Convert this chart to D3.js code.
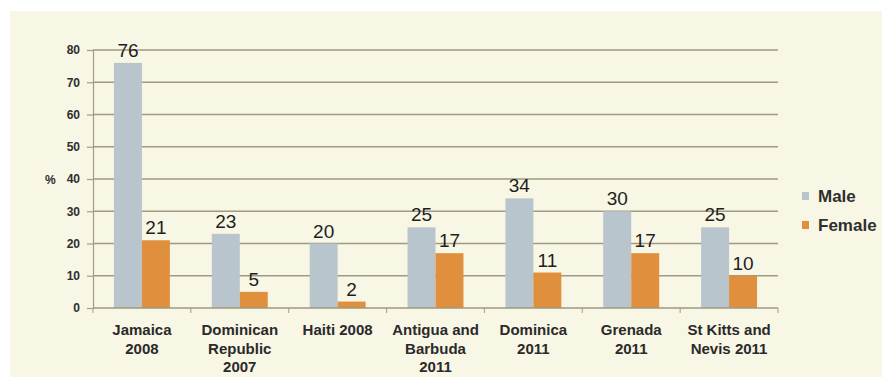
<!DOCTYPE html>
<html>
<head>
<meta charset="utf-8">
<script src="https://cdn.jsdelivr.net/npm/d3@7"></script>
<style>
  body { margin: 0; background: #fff; overflow: hidden; }
  svg { display: block; font-family: "Liberation Sans", Arial, sans-serif; }
</style>
</head>
<body>
<div id="chart"></div>
<script>
const categories = [
    ["Jamaica", "2008"],
    ["Dominican", "Republic", "2007"],
    ["Haiti 2008"],
    ["Antigua and", "Barbuda", "2011"],
    ["Dominica", "2011"],
    ["Grenada", "2011"],
    ["St Kitts and", "Nevis 2011"]
];
const male = [76, 23, 20, 25, 34, 30, 25];
const female = [21, 5, 2, 17, 11, 17, 10];
const seriesNames = ["Male", "Female"];
const yTicks = [0, 10, 20, 30, 40, 50, 60, 70, 80];

const width = 882, height = 377;
const colors = { Male: "#b9c5cd", Female: "#e0903c" };

const svg = d3.select("#chart").append("svg")
    .attr("width", width)
    .attr("height", height);

// cream panel
svg.append("rect")
    .attr("x", 10).attr("y", 11)
    .attr("width", width - 10).attr("height", height - 11)
    .attr("fill", "#f8f6e4");

const plot = { left: 93, right: 778, top: 50, bottom: 308 };

const keys = categories.map((c, i) => i);
const x = d3.scaleBand()
    .domain(keys)
    .range([plot.left, plot.right]);

const barW = x.bandwidth() / 3.5;
const y = d3.scaleLinear()
    .domain([0, 80])
    .range([plot.bottom, plot.top]);

// gridlines
svg.append("g")
    .selectAll("line")
    .data(yTicks.filter(d => d > 0))
    .enter().append("line")
    .attr("x1", plot.left).attr("x2", plot.right)
    .attr("y1", d => y(d)).attr("y2", d => y(d))
    .attr("stroke", "#9e9a83")
    .attr("stroke-width", 1.6);

// y axis
const yAxis = svg.append("g")
    .attr("transform", `translate(${plot.left},0)`)
    .call(d3.axisLeft(y).tickValues(yTicks).tickSize(6).tickPadding(7));
yAxis.select(".domain").attr("stroke", "#a19d86").attr("stroke-width", 1.2);
yAxis.selectAll(".tick line").attr("stroke", "#a19d86").attr("stroke-width", 1.2);
yAxis.selectAll("text")
    .style("font-size", "12px")
    .style("font-weight", "bold")
    .attr("fill", "#2e2e2e");

svg.append("text")
    .attr("x", 45).attr("y", y(40) + 5)
    .style("font-size", "12px")
    .style("font-weight", "bold")
    .attr("fill", "#2e2e2e")
    .text("%");

// bars
const rows = keys.map(i => ({ i, Male: male[i], Female: female[i] }));
seriesNames.forEach((s, si) => {
    const off = x.bandwidth() * 0.75 / 3.5 + si * barW;
    svg.append("g")
        .selectAll("rect")
        .data(rows)
        .enter().append("rect")
        .attr("x", d => x(d.i) + off)
        .attr("y", d => y(d[s]))
        .attr("width", barW)
        .attr("height", d => y(0) - y(d[s]))
        .attr("fill", colors[s]);

    svg.append("g")
        .selectAll("text")
        .data(rows)
        .enter().append("text")
        .attr("x", d => x(d.i) + off + barW / 2)
        .attr("y", d => y(d[s]) - 6)
        .attr("text-anchor", "middle")
        .style("font-size", "19px")
        .attr("fill", "#1e1e1e")
        .text(d => d[s]);
});

// x axis
const xAxis = svg.append("g")
    .attr("transform", `translate(0,${plot.bottom})`);
xAxis.append("line")
    .attr("x1", plot.left).attr("x2", plot.right)
    .attr("stroke", "#9e9a83").attr("stroke-width", 1.6);
xAxis.selectAll(".xt")
    .data(keys.concat([keys.length]))
    .enter().append("line")
    .attr("x1", d => plot.left + d * x.step())
    .attr("x2", d => plot.left + d * x.step())
    .attr("y1", 0).attr("y2", 5)
    .attr("stroke", "#a19d86");

const labels = svg.append("g");
categories.forEach((lines, i) => {
    const t = labels.append("text")
        .attr("x", x(i) + x.bandwidth() / 2)
        .attr("y", 335)
        .attr("text-anchor", "middle")
        .style("font-size", "15px")
        .style("font-weight", "bold")
        .attr("fill", "#2a2a2a");
    lines.forEach((ln, j) => {
        t.append("tspan")
            .attr("x", x(i) + x.bandwidth() / 2)
            .attr("dy", j === 0 ? 0 : 18.5)
            .text(ln);
    });
});

// legend
const legend = svg.append("g").attr("transform", "translate(802,192)");
seriesNames.forEach((s, i) => {
    legend.append("rect")
        .attr("x", 0).attr("y", i * 29)
        .attr("width", 7).attr("height", 8)
        .attr("fill", colors[s]);
    legend.append("text")
        .attr("x", 16).attr("y", i * 29 + 10)
        .style("font-size", "17px")
        .style("font-weight", "bold")
        .attr("fill", "#2e2e2e")
        .text(s);
});
</script>
</body>
</html>
